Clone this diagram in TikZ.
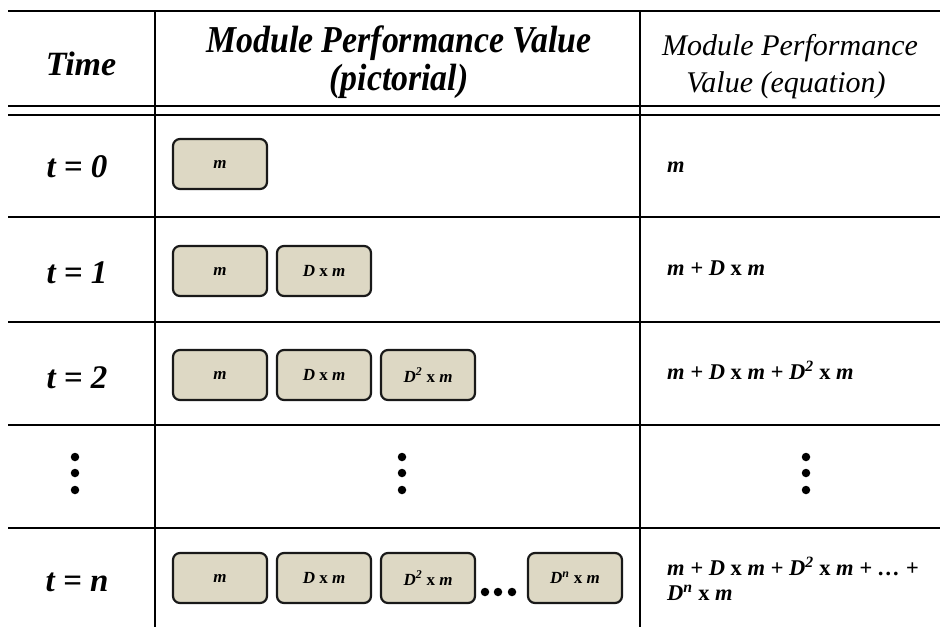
\documentclass[tikz,border=0pt]{standalone}
\usepackage{fontspec}
\setmainfont{Liberation Serif}
\usetikzlibrary{positioning}
\definecolor{boxfill}{HTML}{DDD8C4}
\newcommand{\tx}{{\upshape x}}
\tikzset{
  rule/.style={line width=2.6pt, black},
  thinrule/.style={line width=2pt, black},
  modbox/.style={draw=black!90, line width=2.2pt, fill=boxfill, rounded corners=7pt,
    minimum width=94pt, minimum height=50pt, inner sep=0pt,
    font=\fontsize{17}{19}\selectfont\bfseries\itshape},
  hdr/.style={anchor=base, inner sep=0pt, font=\fontsize{34}{36}\selectfont\bfseries\itshape},
  hdrpic/.style={anchor=base, inner sep=0pt, font=\fontsize{38}{40}\selectfont\bfseries\itshape},
  hdreq/.style={anchor=base, inner sep=0pt, font=\fontsize{30}{32}\selectfont\itshape},
  rowlbl/.style={anchor=base, inner sep=0pt, font=\fontsize{33}{35}\selectfont\bfseries\itshape},
  eqn/.style={anchor=base west, inner sep=0pt, font=\fontsize{22.5}{25}\selectfont\bfseries\itshape},
  vdot/.style={circle, fill=black, inner sep=0pt, minimum size=8.5pt},
}
\begin{document}
\begin{tikzpicture}[x=1pt, y=-1pt]
\useasboundingbox (0,0) rectangle (940,627);

% table rules
\draw[rule] (8,11) -- (940,11);
\draw[thinrule] (8,106) -- (940,106);
\draw[thinrule] (8,115) -- (940,115);
\foreach \yy in {217,322,425,528} \draw[rule] (8,\yy) -- (940,\yy);
\draw[rule] (155,11) -- (155,627);
\draw[rule] (640,11) -- (640,627);

% header
\node[hdr] (hTime) at (81,75) {Time};
\node[hdrpic] (hPicA) at (399,52) {\scalebox{0.89}[1]{Module Performance Value}};
\node[hdrpic] (hPicB) at (399,90) {\scalebox{0.89}[1]{(pictorial)}};
\node[hdreq] (hEqA) at (790,55) {Module Performance};
\node[hdreq] (hEqB) at (786,92) {Value (equation)};

% time labels
\node[rowlbl] (t0) at (77,177) {t = 0};
\node[rowlbl] (t1) at (77,283) {t = 1};
\node[rowlbl] (t2) at (77,388) {t = 2};
\node[rowlbl] (tn) at (77,591) {t = n};

% vertical ellipsis row
\foreach \xx/\nm in {75/a,402/b,806/c} {
  \node[vdot] (\nm1) at (\xx,457) {};
  \node[vdot] (\nm2) at (\xx,473) {};
  \node[vdot] (\nm3) at (\xx,490) {};
}

% module boxes
\node[modbox] (b00) at (220,164) {m};

\node[modbox] (b10) at (220,271) {m};
\node[modbox] (b11) at (324,271) {D \tx\ m};

\node[modbox] (b20) at (220,375) {m};
\node[modbox] (b21) at (324,375) {D \tx\ m};
\node[modbox] (b22) at (428,375) {D\textsuperscript{2} \tx\ m};

\node[modbox] (bn0) at (220,578) {m};
\node[modbox] (bn1) at (324,578) {D \tx\ m};
\node[modbox] (bn2) at (428,578) {D\textsuperscript{2} \tx\ m};
\node[modbox] (bn3) at (575,578) {D\textsuperscript{n} \tx\ m};
\node[vdot] (e1) at (485,592) {};
\node[vdot] (e2) at (498,592) {};
\node[vdot] (e3) at (512,592) {};

% equations
\node[eqn] (q0) at (667,172) {m};
\node[eqn] (q1) at (667,275) {m + D \tx\ m};
\node[eqn] (q2) at (667,379) {m + D \tx\ m + D\textsuperscript{2} \tx\ m};
\node[eqn] (qn1) at (667,575) {m + D \tx\ m + D\textsuperscript{2} \tx\ m + \dots\ +};
\node[eqn] (qn2) at (667,600) {D\textsuperscript{n} \tx\ m};
\end{tikzpicture}
\end{document}
